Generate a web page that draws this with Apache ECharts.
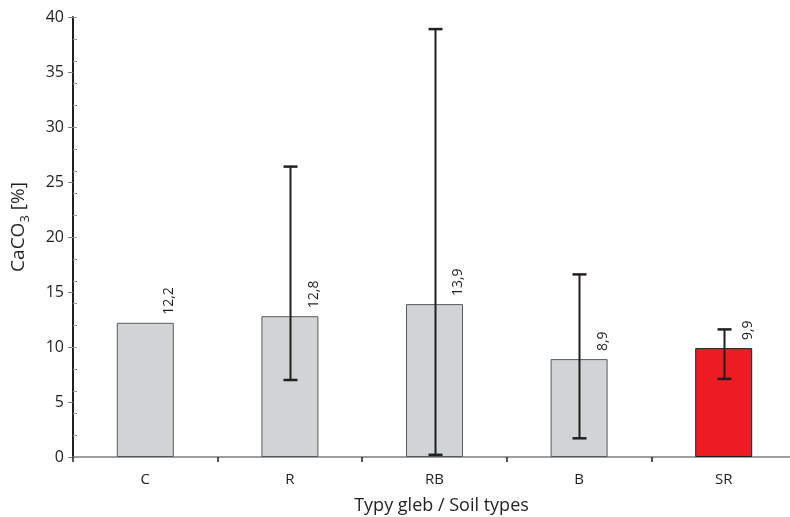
<!DOCTYPE html>
<html>
<head>
<meta charset="utf-8">
<script src="https://cdn.jsdelivr.net/npm/echarts@6/dist/echarts.min.js"></script>
<style>
  html, body { margin: 0; padding: 0; background: #fff; }
  #chart { width: 790px; height: 517px; }
</style>
</head>
<body>
<div id="chart"></div>
<script>
// Soil types and mean CaCO3 content with min–max ranges
const categories = ['C', 'R', 'RB', 'B', 'SR'];
const means = [12.2, 12.8, 13.9, 8.9, 9.9];
const rangeLow = [null, 7.0, 0.2, 1.7, 7.1];
const rangeHigh = [null, 26.4, 38.9, 16.6, 11.6];
const yTicks = [0, 5, 10, 15, 20, 25, 30, 35, 40];

const FONT = '"Open Sans", "Noto Sans", sans-serif';
const INK = '#231f20';

const chart = echarts.init(document.getElementById('chart'), null, { renderer: 'canvas' });

const barData = means.map((v, i) => ({
  value: v,
  itemStyle: i === 4
    ? { color: '#ed1c24', borderColor: INK, borderWidth: 1 }
    : { color: '#d1d3d4', borderColor: '#5a5a5a', borderWidth: 1 }
}));

const errData = categories.map((c, i) => [i, rangeLow[i], rangeHigh[i]]);

chart.setOption({
  animation: false,
  backgroundColor: '#fff',
  grid: { left: 73, top: 17, width: 723, height: 440, containLabel: false, outerBoundsMode: 'none' },
  xAxis: {
    type: 'category',
    data: categories,
    boundaryGap: true,
    axisLine: { lineStyle: { color: '#7f7f7f', width: 1.5 } },
    axisTick: { show: true, length: 5, lineStyle: { color: INK, width: 1.5 } },
    axisLabel: { color: INK, fontFamily: FONT, fontSize: 15, margin: 15 },
    name: 'Typy gleb / Soil types',
    nameLocation: 'middle',
    nameGap: 40,
    nameTextStyle: { color: INK, fontFamily: FONT, fontSize: 18, padding: [0, 0, 0, 14] }
  },
  yAxis: [{
    type: 'value',
    min: yTicks[0],
    max: yTicks[yTicks.length - 1],
    interval: 5,
    axisLine: { show: true, lineStyle: { color: INK, width: 2 } },
    axisTick: { show: true, length: 5, lineStyle: { color: '#7f7f7f', width: 1 } },
    splitLine: { show: false },
    axisLabel: { color: INK, fontFamily: FONT, fontSize: 16, margin: 9 },
    name: '{a|CaCO}{s|3}{a| [%]}',
    nameLocation: 'middle',
    nameGap: 45,
    nameRotate: 90,
    nameTextStyle: {
      color: INK,
      fontFamily: FONT,
      fontSize: 19,
      padding: [0, 0, 0, 20],
      rich: {
        a: { color: INK, fontFamily: FONT, fontSize: 19, lineHeight: 26, verticalAlign: 'bottom' },
        s: { color: INK, fontFamily: FONT, fontSize: 13, lineHeight: 26, verticalAlign: 'bottom', padding: [0, 0, -4, 0] }
      }
    }
  }, {
    // minor ticks on the inner side of the value axis
    type: 'value',
    position: 'left',
    min: 0,
    max: 40,
    interval: 2,
    axisLine: { show: false },
    axisTick: { show: true, inside: true, length: 4, lineStyle: { color: '#9a9a9a', width: 1 } },
    axisLabel: { show: false },
    splitLine: { show: false }
  }],
  series: [{
    type: 'bar',
    data: barData,
    barWidth: 57,
    yAxisIndex: 0,
    z: 2,
    label: {
      show: true,
      position: 'top',
      rotate: 90,
      align: 'left',
      verticalAlign: 'middle',
      distance: 8,
      offset: [0, 24],
      color: INK,
      fontFamily: FONT,
      fontSize: 14,
      formatter: p => String(p.value).replace('.', ',')
    }
  }, {
    type: 'custom',
    yAxisIndex: 0,
    z: 5,
    data: errData,
    renderItem: function (params, api) {
      const lo = api.value(1), hi = api.value(2);
      if (lo == null || hi == null || isNaN(lo) || isNaN(hi)) return null;
      const pHi = api.coord([api.value(0), hi]);
      const pLo = api.coord([api.value(0), lo]);
      const x = Math.round(pHi[0]) + 0.5;
      const cap = 7;
      const st = { stroke: INK, lineWidth: 2 };
      return {
        type: 'group',
        children: [
          { type: 'line', shape: { x1: x, y1: pHi[1], x2: x, y2: pLo[1] }, style: st },
          { type: 'line', shape: { x1: x - cap, y1: pHi[1], x2: x + cap, y2: pHi[1] }, style: { stroke: INK, lineWidth: 2.5 } },
          { type: 'line', shape: { x1: x - cap, y1: pLo[1], x2: x + cap, y2: pLo[1] }, style: { stroke: INK, lineWidth: 2.5 } }
        ]
      };
    }
  }]
});
</script>
</body>
</html>
